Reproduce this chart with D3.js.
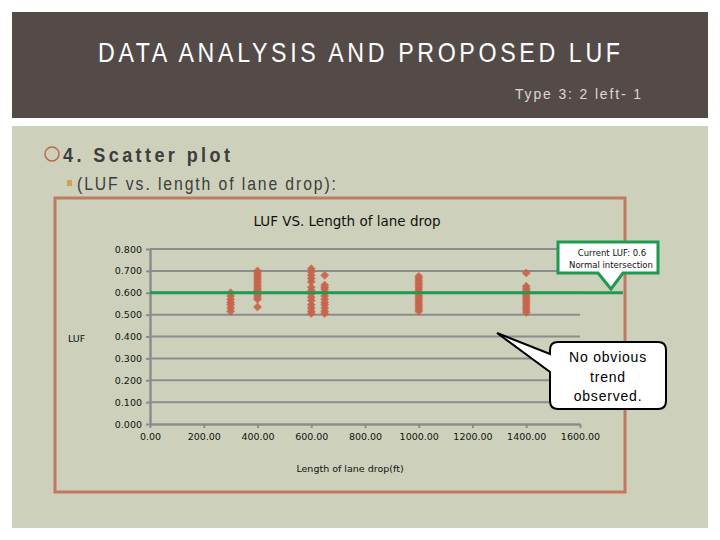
<!DOCTYPE html>
<html><head><meta charset="utf-8">
<script src="https://cdn.jsdelivr.net/npm/d3@7"></script>
<style>body{margin:0;background:#fff}svg{display:block}</style>
</head><body>
<script>
// ---- data ----
const lengths = [300, 400, 600, 650, 1000, 1400];
const luf300 = [0.600, 0.585, 0.570, 0.555, 0.545, 0.530, 0.515];
const luf400 = [0.700, 0.690, 0.680, 0.670, 0.660, 0.650, 0.640, 0.630, 0.620, 0.610, 0.600, 0.590, 0.580, 0.570, 0.535];
const luf600 = [0.710, 0.695, 0.680, 0.665, 0.650, 0.625, 0.610, 0.595, 0.580, 0.565, 0.545, 0.530, 0.515, 0.505];
const luf650 = [0.680, 0.635, 0.625, 0.615, 0.600, 0.585, 0.570, 0.555, 0.545, 0.530, 0.515, 0.505];
const luf1000 = [0.675, 0.665, 0.655, 0.645, 0.635, 0.625, 0.615, 0.605, 0.595, 0.585, 0.575, 0.565, 0.555, 0.545, 0.535, 0.525, 0.515];
const luf1400 = [0.690, 0.630, 0.620, 0.610, 0.600, 0.590, 0.580, 0.570, 0.560, 0.550, 0.540, 0.530, 0.520, 0.510];
const lufGroups = [luf300, luf400, luf600, luf650, luf1000, luf1400];
const yTicks = [0, 0.1, 0.2, 0.3, 0.4, 0.5, 0.6, 0.7, 0.8];
const xTicks = [0, 200, 400, 600, 800, 1000, 1200, 1400, 1600];
const currentLUF = 0.6;

const points = [];
lengths.forEach((L, i) => lufGroups[i].forEach(v => points.push({x: L, y: v})));

const W = 720, H = 540;
const svg = d3.select("body").append("svg").attr("width", W).attr("height", H);

// condensed text helper: horizontal squeeze + spacing to fit a given width
function condText(xPos, yPos, width, size, sx, txt, fill, weight) {
  svg.append("text")
    .attr("transform", `translate(${xPos},${yPos}) scale(${sx},1)`)
    .attr("textLength", width / sx).attr("lengthAdjust", "spacing")
    .attr("font-family", "Liberation Sans, Arial, sans-serif").attr("font-size", size)
    .attr("font-weight", weight || "normal").attr("fill", fill).text(txt);
}

// slide header
svg.append("rect").attr("x", 12).attr("y", 12).attr("width", 696).attr("height", 106).attr("fill", "#544b48");
condText(98, 62, 522, 27, 0.86, "DATA ANALYSIS AND PROPOSED LUF", "#ffffff");
condText(515, 99, 126, 15.5, 0.9, "Type 3: 2 left- 1", "#ddd8d2");

// content panel
svg.append("rect").attr("x", 12).attr("y", 126).attr("width", 696).attr("height", 402).attr("fill", "#cdd1bb");
svg.append("circle").attr("cx", 52).attr("cy", 154).attr("r", 7).attr("fill", "none").attr("stroke", "#c0654c").attr("stroke-width", 1.5);
condText(63, 162, 167, 21, 0.86, "4. Scatter plot", "#3d3d3d", "bold");
svg.append("rect").attr("x", 67).attr("y", 180).attr("width", 5).attr("height", 6).attr("fill", "#d4a24c");
condText(77, 190, 259, 17.5, 0.9, "(LUF vs. length of lane drop):", "#3d3d3d");

// chart box
svg.append("rect").attr("x", 55).attr("y", 198).attr("width", 570).attr("height", 294)
  .attr("fill", "none").attr("stroke", "#bf7a5f").attr("stroke-width", 3);
svg.append("text").attr("x", 347).attr("y", 226).attr("text-anchor", "middle")
  .attr("font-family", "DejaVu Sans, sans-serif").attr("font-size", 13.5).attr("fill", "#111")
  .text("LUF VS. Length of lane drop");

const x = d3.scaleLinear().domain([0, 1600]).range([150, 580]);
const y = d3.scaleLinear().domain([0, 0.8]).range([424, 249]);

// gridlines
svg.append("g").selectAll("line").data(yTicks.filter(t => t > 0)).join("line")
  .attr("x1", x(0)).attr("x2", x(1600)).attr("y1", d => y(d)).attr("y2", d => y(d))
  .attr("stroke", "#8c8c8c").attr("stroke-width", 2);

// axes
const yAxis = svg.append("g").attr("transform", `translate(${x(0)},0)`)
  .call(d3.axisLeft(y).tickValues(yTicks).tickFormat(d3.format(".3f")).tickSize(4).tickSizeOuter(0));
const xAxis = svg.append("g").attr("transform", `translate(0,${y(0)})`)
  .call(d3.axisBottom(x).tickValues(xTicks).tickFormat(d3.format(".2f")).tickSize(4).tickSizeOuter(0));
[yAxis, xAxis].forEach(a => {
  a.select(".domain").attr("stroke", "#8c8c8c").attr("stroke-width", 2.5);
  a.selectAll(".tick line").attr("stroke", "#8c8c8c").attr("stroke-width", 2);
  a.selectAll("text").attr("font-family", "DejaVu Sans, sans-serif").attr("font-size", 9.5).attr("fill", "#111");
});
yAxis.selectAll("text").attr("x", -8);
xAxis.selectAll("text").attr("y", 9);

svg.append("text").attr("x", 68).attr("y", 342).attr("font-family", "DejaVu Sans, sans-serif").attr("font-size", 9.5).attr("fill", "#111").text("LUF");
svg.append("text").attr("x", 350).attr("y", 472).attr("text-anchor", "middle")
  .attr("font-family", "DejaVu Sans, sans-serif").attr("font-size", 9.5).attr("fill", "#111").text("Length of lane drop(ft)");

// points
const sym = d3.symbol(d3.symbolSquare, 32);
svg.append("g").selectAll("path").data(points).join("path")
  .attr("d", sym).attr("transform", d => `translate(${x(d.x)},${y(d.y)}) rotate(45)`)
  .attr("fill", "#c8644c").attr("stroke", "#c8644c").attr("stroke-width", 0.6).attr("opacity", 0.92);

// current LUF line
svg.append("line").attr("x1", x(0)).attr("x2", 623).attr("y1", y(currentLUF)).attr("y2", y(currentLUF))
  .attr("stroke", "#1f9a50").attr("stroke-width", 3);

// callout 1
svg.append("path").attr("d", "M558,242 H658 V273 H623 L611,289 L598,273 H558 Z")
  .attr("fill", "#fff").attr("stroke", "#1f9a50").attr("stroke-width", 3).attr("stroke-linejoin", "miter");
svg.append("text").attr("x", 612).attr("y", 256).attr("text-anchor", "middle")
  .attr("font-family", "DejaVu Sans, sans-serif").attr("font-size", 8.5).attr("fill", "#111").text("Current LUF: 0.6");
svg.append("text").attr("x", 611).attr("y", 268).attr("text-anchor", "middle")
  .attr("font-family", "DejaVu Sans, sans-serif").attr("font-size", 8.5).attr("fill", "#111").text("Normal intersection");

// callout 2
svg.append("path").attr("d", "M558,342 H658 Q666,342 666,350 V401 Q666,409 658,409 H558 Q550,409 550,401 V372 L497,333 L550,354 V350 Q550,342 558,342 Z")
  .attr("fill", "#fff").attr("stroke", "#000").attr("stroke-width", 2);
["No obvious", "trend", "observed."].forEach((t, i) => {
  svg.append("text").attr("x", 608).attr("y", 362 + i * 19.5).attr("text-anchor", "middle")
    .attr("font-family", "Liberation Sans, Arial, sans-serif").attr("font-size", 14).attr("letter-spacing", 0.8)
    .attr("fill", "#000").text(t);
});
</script>
</body></html>
